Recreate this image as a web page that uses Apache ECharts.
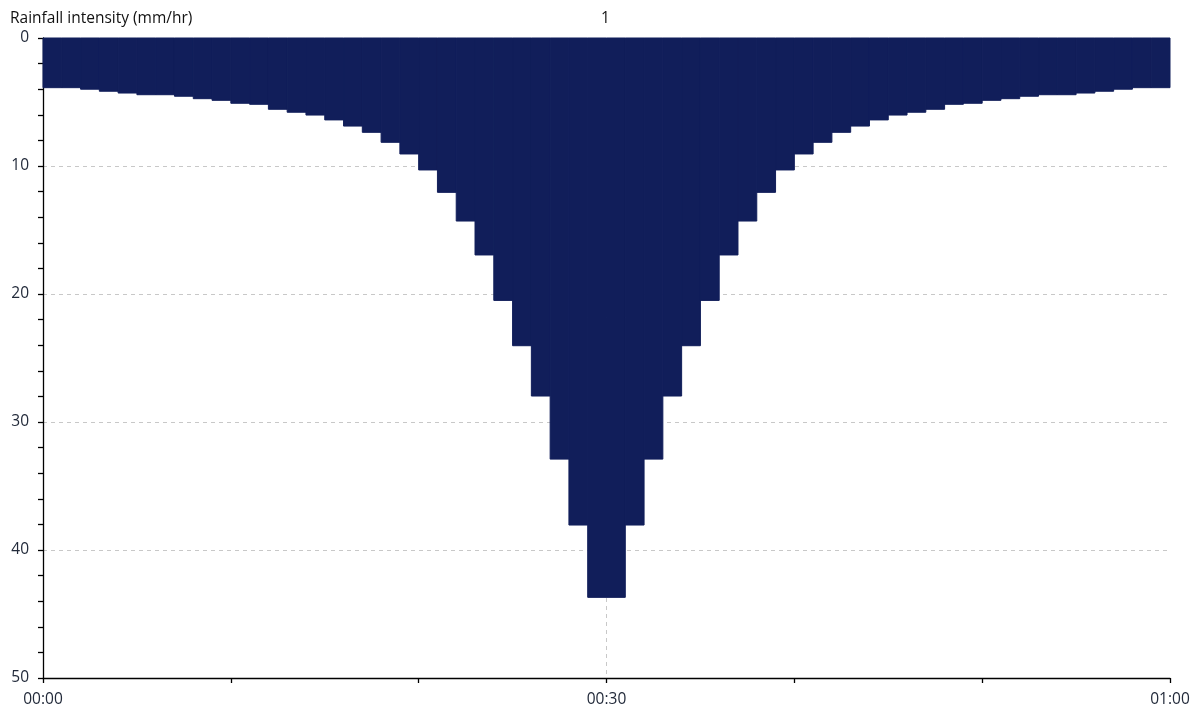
<!DOCTYPE html>
<html>
<head>
<meta charset="utf-8">
<style>
  html, body { margin: 0; padding: 0; background: #ffffff; }
  #chart { width: 1190px; height: 709px; }
</style>
<script src="https://cdn.jsdelivr.net/npm/echarts@6/dist/echarts.min.js"></script>
</head>
<body>
<div id="chart"></div>
<script>
// ---- data ----
const seriesName = '1';
const yAxisTitle = 'Rainfall intensity (mm/hr)';
const stepMinutes = 1;
// rainfall intensity (mm/hr) for each 1-minute step, 00:00 to 01:00
const intensity = [
  3.88, 3.88, 4.00, 4.16, 4.30, 4.43, 4.43, 4.55, 4.74, 4.87,
  5.10, 5.18, 5.57, 5.80, 6.02, 6.40, 6.88, 7.37, 8.15, 9.06,
  10.31, 12.06, 14.30, 16.95, 20.50, 24.04, 27.97, 32.90, 38.05, 43.70,
  43.70, 38.05, 32.90, 27.97, 24.04, 20.50, 16.95, 14.30, 12.06, 10.31,
  9.06, 8.15, 7.37, 6.88, 6.40, 6.02, 5.80, 5.57, 5.18, 5.10,
  4.87, 4.74, 4.55, 4.43, 4.43, 4.30, 4.16, 4.00, 3.88, 3.88
];
const xLabelMinutes = [0, 30, 60];
const peakMarkMinute = 30;

// ---- build ----
const barData = intensity.map((v, i) => [i * stepMinutes, (i + 1) * stepMinutes, v]);
const fmtTime = m => {
  const h = Math.floor(m / 60), mm = m % 60;
  return String(h).padStart(2, '0') + ':' + String(mm).padStart(2, '0');
};
const barColor = '#111E5A';
const textColor = '#222a3a';
const fontFamily = '"Open Sans", "Noto Sans", "DejaVu Sans", sans-serif';

const chart = echarts.init(document.getElementById('chart'), null, { renderer: 'canvas' });
chart.setOption({
  animation: false,
  backgroundColor: '#ffffff',
  title: [
    { text: yAxisTitle, left: 5, top: 6, textStyle: { fontSize: 15.5, fontWeight: 'normal', color: '#111', fontFamily } },
    { text: seriesName, left: 596, top: 6, textStyle: { fontSize: 15.5, fontWeight: 'normal', color: '#111', fontFamily } }
  ],
  grid: { left: 43, right: 20, top: 38, bottom: 31, containLabel: false, outerBoundsMode: 'none' },
  xAxis: {
    type: 'value',
    min: 0, max: 60, interval: 10,
    axisLine: { show: true, onZero: false, lineStyle: { color: '#000', width: 1.3 } },
    axisTick: { show: true, length: 5, lineStyle: { color: '#000', width: 1.3 } },
    axisLabel: {
      show: true, margin: 14, fontSize: 15.5, color: textColor, fontFamily,
      showMinLabel: true, showMaxLabel: true,
      formatter: v => xLabelMinutes.includes(v) ? fmtTime(v) : ''
    },
    splitLine: { show: false }
  },
  yAxis: {
    type: 'value',
    inverse: true,
    min: 0, max: 50, interval: 10,
    axisLine: { show: true, onZero: false, lineStyle: { color: '#000', width: 1.3 } },
    axisTick: { show: true, length: 5, lineStyle: { color: '#000', width: 1.3 } },
    minorTick: { show: true, splitNumber: 5, length: 5, lineStyle: { color: '#000', width: 1.3 } },
    axisLabel: { show: true, margin: 14, fontSize: 15.5, color: textColor, fontFamily },
    splitLine: { show: true, lineStyle: { color: '#c8c8c8', type: [4, 4], width: 1 } }
  },
  series: [
    {
      type: 'line',
      name: 'peak',
      data: [[peakMarkMinute, 0], [peakMarkMinute, 50]],
      symbol: 'none',
      lineStyle: { color: '#c8c8c8', type: [4, 4], width: 1 },
      z: 1,
      silent: true
    },
    {
      type: 'custom',
      name: seriesName,
      data: barData,
      encode: { x: [0, 1], y: 2 },
      z: 3,
      renderItem: (params, api) => {
        const p0 = api.coord([api.value(0), 0]);
        const p1 = api.coord([api.value(1), api.value(2)]);
        return {
          type: 'rect',
          shape: { x: p0[0], y: p0[1], width: p1[0] - p0[0], height: p1[1] - p0[1] },
          style: { fill: barColor, stroke: barColor, lineWidth: 1 }
        };
      }
    }
  ]
});
</script>
</body>
</html>
